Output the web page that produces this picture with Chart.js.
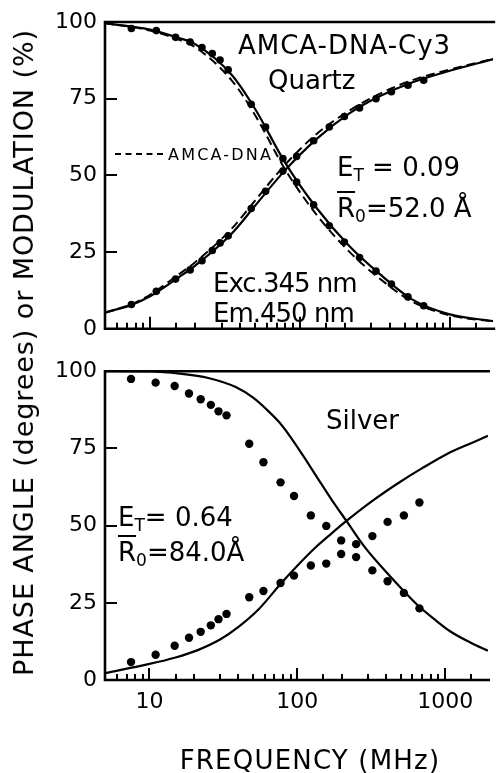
<!DOCTYPE html>
<html>
<head>
<meta charset="utf-8">
<script src="https://cdn.jsdelivr.net/npm/chart.js@4.4.0/dist/chart.umd.min.js"></script>
<style>
  body { margin: 0; background: #fff; }
  #stage { position: relative; width: 497px; height: 773px; background: #fff; overflow: hidden;
           font-family: "DejaVu Sans", sans-serif; color: #000; }
  .panel { position: absolute; left: 0; }
  .note { position: absolute; white-space: pre; line-height: 1; font-size: 26px; }
  .note sub { font-size: 17px; vertical-align: -5px; line-height: 0; }
  .bar { text-decoration: overline; text-decoration-thickness: 2px; }
  #legend { position: absolute; left: 115px; top: 147px; font-size: 16px; line-height: 1; letter-spacing: 2.2px; white-space: pre; }
  #legend span { display: inline-block; width: 48px; border-top: 2px dashed #000; vertical-align: 5px; margin-right: 5px; }
  #ytitle { position: absolute; font-size: 27px; line-height: 1; white-space: pre; transform-origin: 50% 50%; }
</style>
</head>
<body>
<div id="stage">
  <div class="panel" style="top:0"><canvas id="quartz" width="497" height="350"></canvas></div>
  <div class="panel" style="top:350px"><canvas id="silver" width="497" height="423"></canvas></div>

  <div class="note" style="left:238px;top:32px;letter-spacing:1px">AMCA-DNA-Cy3</div>
  <div class="note" style="left:268px;top:67px">Quartz</div>
  <div class="note" style="left:337px;top:154px">E<sub>T</sub> = 0.09</div>
  <div class="note" style="left:337px;top:195px"><span class="bar">R</span><sub>0</sub>=52.0 Å</div>
  <div class="note" style="left:213px;top:270px;letter-spacing:-1px">Exc.345 nm</div>
  <div class="note" style="left:213px;top:300px;letter-spacing:-1px">Em.450 nm</div>
  <div id="legend"><span></span>AMCA-DNA</div>

  <div class="note" style="left:326px;top:407px">Silver</div>
  <div class="note" style="left:118px;top:504px">E<sub>T</sub>= 0.64</div>
  <div class="note" style="left:118px;top:539px"><span class="bar">R</span><sub>0</sub>=84.0Å</div>

  <div class="note" id="xtitle" style="left:310px;top:747px;transform:translateX(-50%);letter-spacing:1.2px">FREQUENCY (MHz)</div>
  <div id="ytitle">PHASE ANGLE (degrees) or MODULATION (%)</div>
</div>

<script>
// x axis: modulation frequency in MHz (log)
const FREQ_MIN = 5;
const FREQ_MAX = 1950;
const decadeLabels = [10, 100, 1000];

// Quartz: fitted curves (AMCA-DNA-Cy3) and donor-only curves (AMCA-DNA)
const quartzFitFreq   = [5, 7.5, 10, 15, 20, 35, 50, 80, 130, 215, 340, 560, 1000, 1950];
const quartzModFit    = [99.6, 98.5, 97.5, 95, 92.8, 82.8, 71.8, 54, 39.2, 26.8, 17.9, 9.6, 4.7, 2.5];
const quartzPhaseFit  = [5.3, 7.8, 10.6, 16.3, 20.6, 31, 40, 51.8, 62, 70.3, 75.8, 80.3, 84.1, 87.9];
const donorModFit     = [99.6, 98.4, 97.2, 94.5, 91.8, 81, 69.8, 51.8, 37, 25, 16.4, 8.9, 4.4, 2.4];
const donorPhaseFit   = [5.2, 8, 11.1, 17.2, 21.7, 32.6, 41.7, 53.6, 63.6, 71.2, 76.6, 81, 84.5, 88];

// measured frequencies
const measFreq = [7.5, 11, 14.8, 18.5, 22.2, 26, 29.3, 33.2, 47.3, 59, 77, 95, 123.5, 157, 198, 250, 322, 408, 526, 670];

// Quartz: measured points
const quartzMod   = [97.9, 97.2, 95.0, 93.5, 91.7, 89.7, 87.6, 84.4, 73.2, 65.8, 55.5, 47.8, 40.4, 33.6, 28.3, 23.2, 18.8, 14.6, 10.4, 7.5];
const quartzPhase = [7.9, 12.2, 16.2, 19.2, 22.2, 25.5, 28.0, 30.3, 39.2, 44.8, 51.4, 56.2, 61.3, 65.8, 69.2, 72.0, 75.0, 77.3, 79.4, 81.0];

// Silver: fitted curves
const silverModFreq   = [5, 10, 16, 25, 38.6, 50, 62, 75, 89, 110, 137, 170, 215, 280, 375, 500, 650, 850, 1080, 1500, 1950];
const silverModFit    = [100, 99.9, 99.2, 97.8, 94.8, 91.5, 87.6, 83.6, 79, 72.5, 65.4, 58.5, 51.5, 43.6, 36.4, 29.9, 24.3, 19.6, 15.8, 12, 9.5];
const silverPhaseFreq = [5, 10, 15, 21, 30, 40, 55, 78, 100, 130, 170, 215, 322, 483, 700, 1031, 1500, 1950];
const silverPhaseFit  = [2.2, 5.2, 7.3, 9.6, 13.1, 17.2, 23, 31.4, 37, 42.5, 47.4, 51.5, 58, 63.8, 68.6, 73.2, 76.7, 79.1];

// Silver: measured points
const silverMod   = [97.5, 96.3, 95.2, 92.8, 90.9, 89.1, 87.0, 85.7, 76.5, 70.5, 64.0, 59.6, 53.3, 49.9, 45.2, 44.0, 35.5, 32.0, 28.2, 23.2];
const silverPhase = [5.8, 8.2, 11.1, 13.7, 15.6, 17.7, 19.7, 21.4, 26.8, 28.8, 31.4, 33.8, 37.1, 37.7, 40.8, 39.8, 46.6, 51.2, 53.3, 57.5];

const FONT = 'DejaVu Sans';

function xy(xs, ys) {
  return xs.map((x, i) => ({ x: x, y: ys[i] }));
}

function fitLine(xs, ys, dashed) {
  return {
    data: xy(xs, ys),
    borderColor: '#000',
    borderWidth: dashed ? 2 : 2.2,
    borderDash: dashed ? [9, 5] : [],
    pointRadius: 0,
    cubicInterpolationMode: 'monotone',
    fill: false
  };
}

function dots(xs, ys, r) {
  return {
    data: xy(xs, ys),
    showLine: false,
    pointRadius: r,
    pointHoverRadius: r,
    pointBackgroundColor: '#000',
    pointBorderWidth: 0
  };
}

function isDecade(v) {
  const l = Math.log10(v);
  return Math.abs(l - Math.round(l)) < 1e-6;
}

// box with inward tick marks, log minor ticks on the bottom
const framePlugin = {
  id: 'frame',
  afterDatasetsDraw(chart) {
    const { ctx, chartArea: a, scales: { x, y } } = chart;
    ctx.save();
    ctx.strokeStyle = '#000';
    ctx.lineCap = 'butt';
    ctx.lineWidth = 2.6;
    ctx.beginPath();
    ctx.moveTo(a.right + 2, a.top);
    ctx.lineTo(a.left, a.top);
    ctx.lineTo(a.left, a.bottom);
    ctx.lineTo(a.right + 2, a.bottom);
    ctx.stroke();

    ctx.lineWidth = 2;
    ctx.beginPath();
    y.ticks.forEach(t => {
      if (t.value <= y.min || t.value >= y.max) return;
      const py = Math.round(y.getPixelForValue(t.value));
      ctx.moveTo(a.left, py);
      ctx.lineTo(a.left + 12, py);
    });
    x.ticks.forEach(t => {
      if (t.value <= x.min || t.value >= x.max) return;
      const px = Math.round(x.getPixelForValue(t.value));
      ctx.moveTo(px, a.bottom);
      ctx.lineTo(px, a.bottom - (isDecade(t.value) ? 12 : 6));
    });
    ctx.stroke();
    ctx.restore();
  }
};

function makePanel(id, datasets, top, bottomGap, showX) {
  return new Chart(document.getElementById(id), {
    type: 'line',
    data: { datasets: datasets },
    options: {
      responsive: false,
      animation: false,
      layout: { padding: { top: top, left: 0, right: 0, bottom: 0 } },
      plugins: { legend: { display: false }, tooltip: { enabled: false } },
      scales: {
        x: {
          type: 'logarithmic',
          min: FREQ_MIN,
          max: FREQ_MAX,
          grid: { display: false, drawTicks: false },
          border: { display: false },
          ticks: {
            display: showX,
            autoSkip: false,
            maxRotation: 0,
            padding: 9,
            color: '#000',
            font: { family: FONT, size: 22 },
            callback: v => (decadeLabels.includes(Math.round(v)) && isDecade(v)) ? String(Math.round(v)) : ''
          },
          afterFit: s => { s.height = bottomGap; }
        },
        y: {
          min: 0,
          max: 100,
          grid: { display: false, drawTicks: false },
          border: { display: false },
          ticks: {
            stepSize: 25,
            padding: 8,
            color: '#000',
            font: { family: FONT, size: 22 }
          },
          afterFit: s => { s.width = 105; }
        }
      }
    },
    plugins: [framePlugin]
  });
}

makePanel('quartz', [
  fitLine(quartzFitFreq, quartzModFit, false),
  fitLine(quartzFitFreq, quartzPhaseFit, false),
  fitLine(quartzFitFreq, donorModFit, true),
  fitLine(quartzFitFreq, donorPhaseFit, true),
  dots(measFreq, quartzMod, 3.8),
  dots(measFreq, quartzPhase, 3.8)
], 22, 14, false);

makePanel('silver', [
  fitLine(silverModFreq, silverModFit, false),
  fitLine(silverPhaseFreq, silverPhaseFit, false),
  dots(measFreq, silverMod, 4.2),
  dots(measFreq, silverPhase, 4.2)
], 14, 93, true);

// vertical axis title spans both panels
(function placeYTitle() {
  const el = document.getElementById('ytitle');
  const span = 646;
  const ctx = document.createElement('canvas').getContext('2d');
  ctx.font = '27px "' + FONT + '"';
  const text = el.textContent;
  const w = ctx.measureText(text).width;
  el.style.letterSpacing = ((span - w) / (text.length - 1)) + 'px';
  const box = el.getBoundingClientRect();
  el.style.left = (23.5 - box.width / 2) + 'px';
  el.style.top = (352 - box.height / 2) + 'px';
  el.style.transform = 'rotate(-90deg)';
})();
</script>
</body>
</html>
